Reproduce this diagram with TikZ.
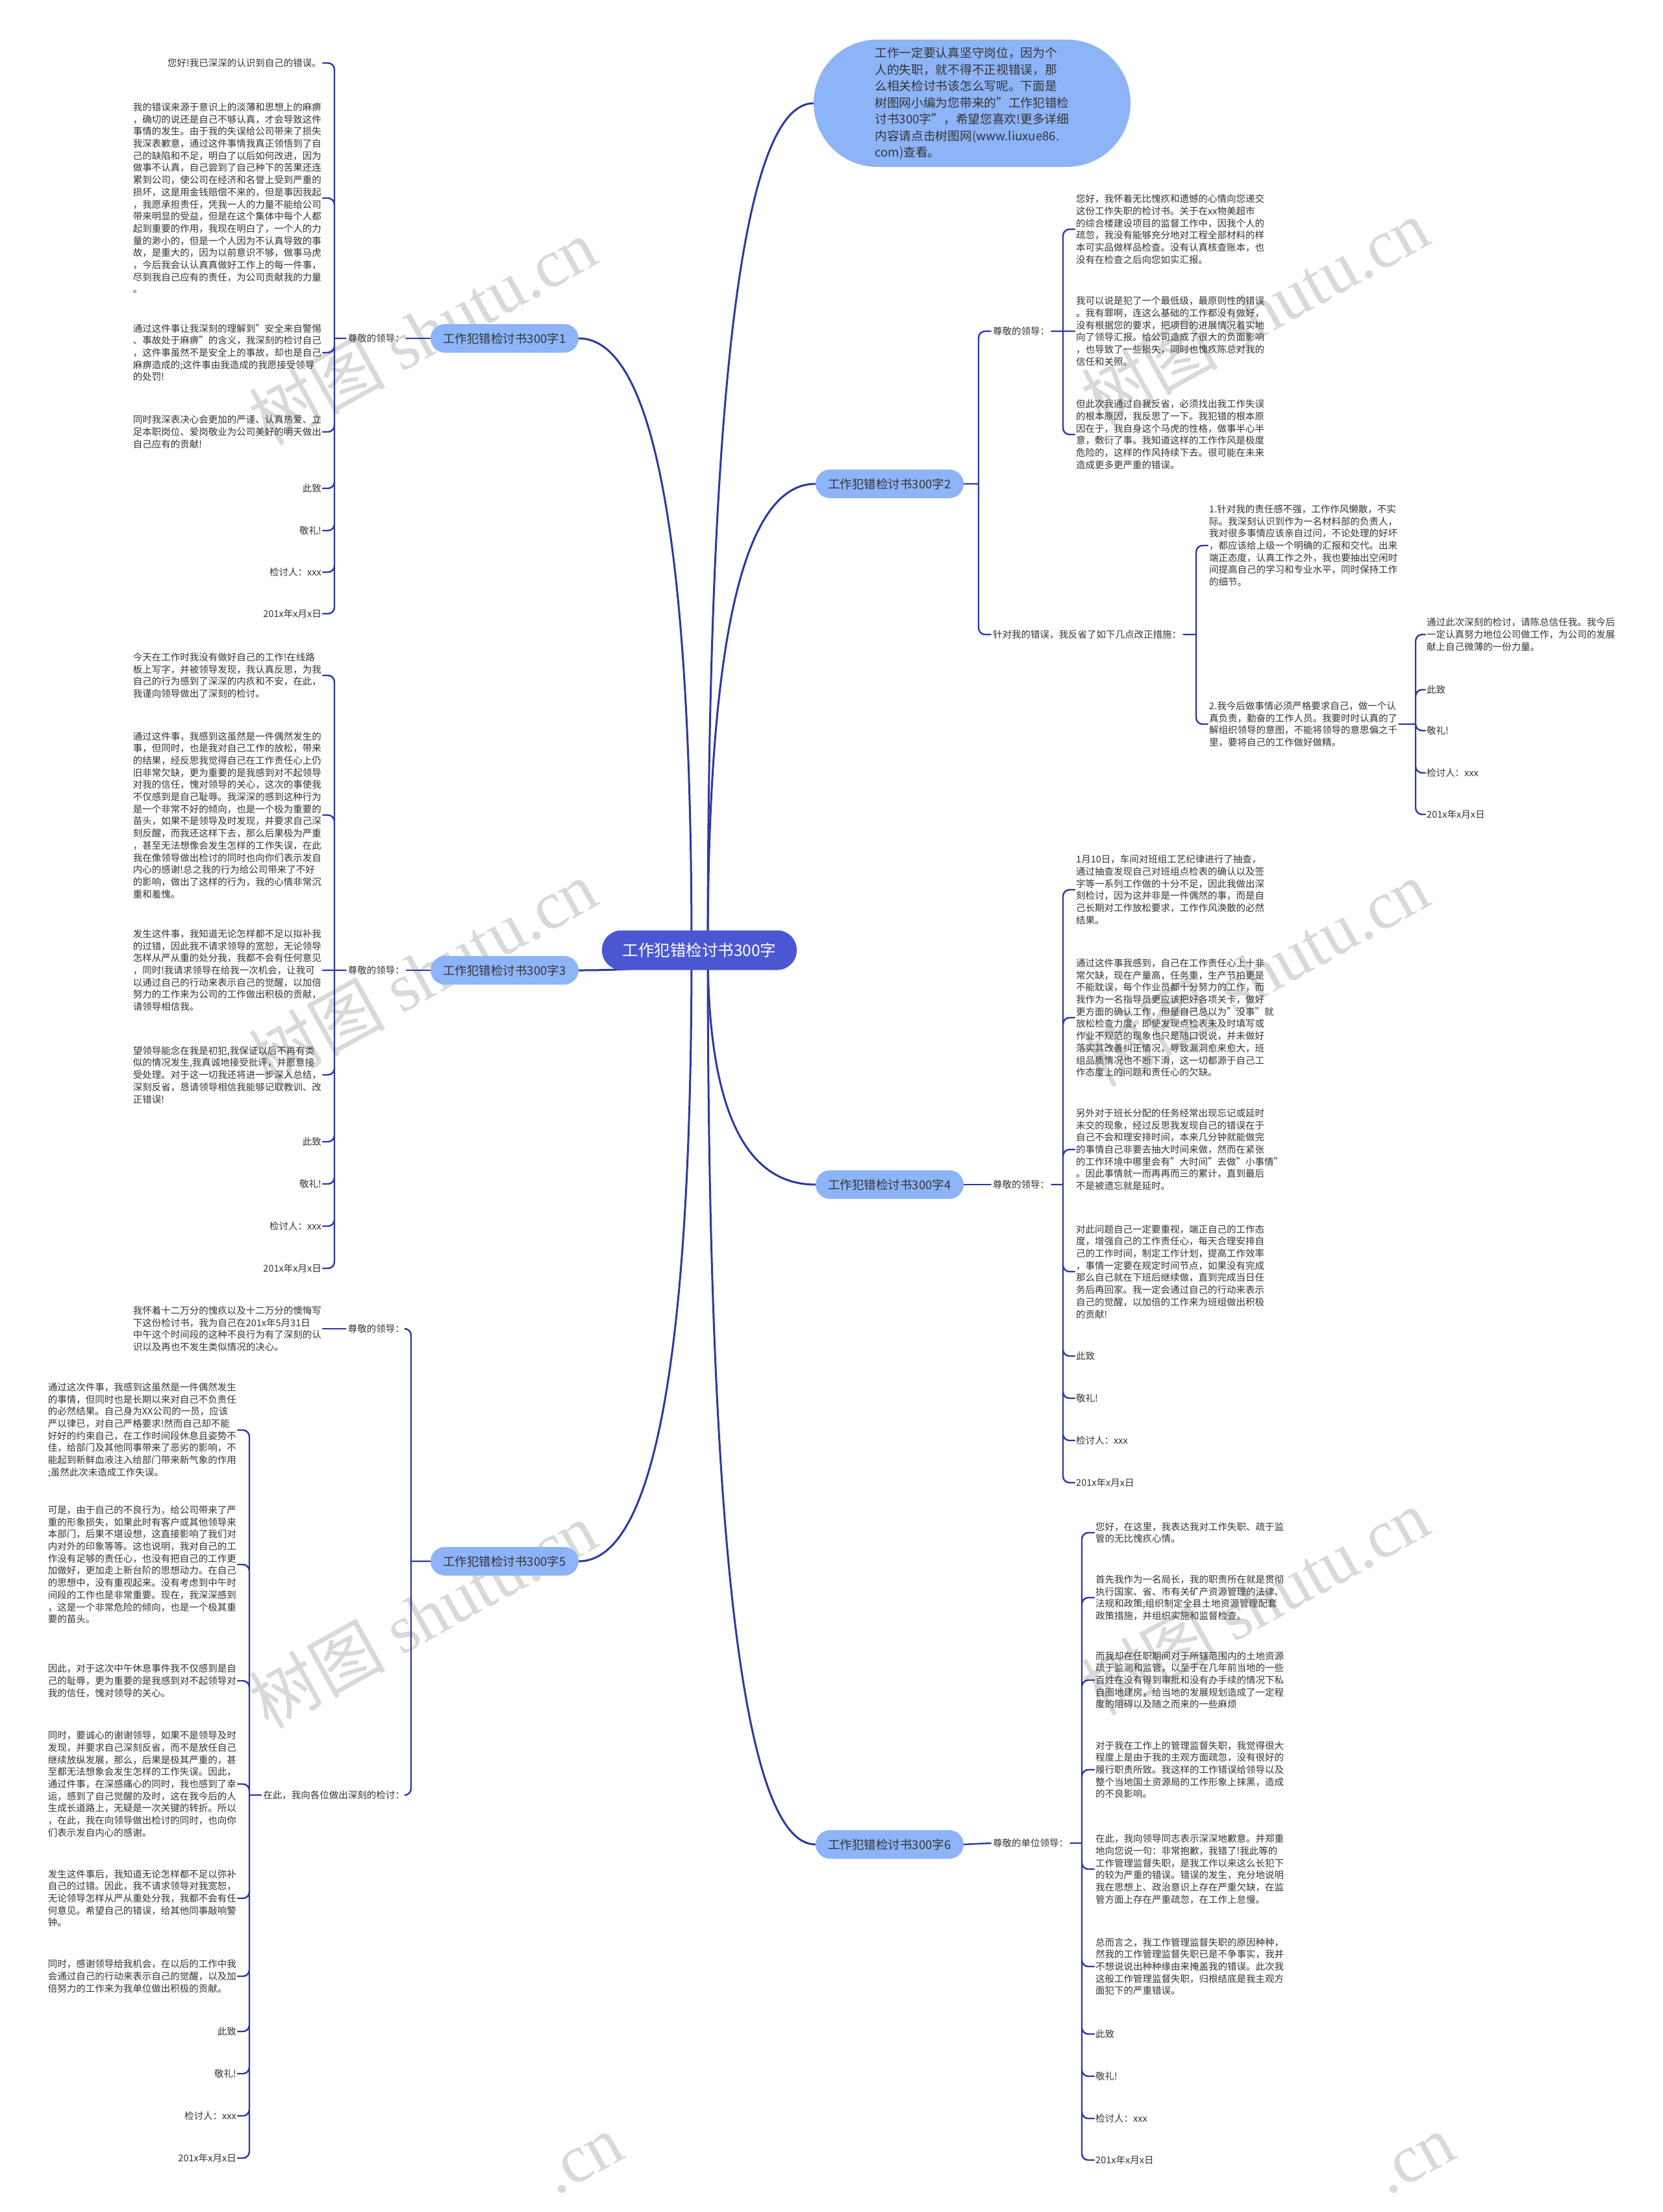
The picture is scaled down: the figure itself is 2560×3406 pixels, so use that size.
\documentclass[tikz,border=0pt]{standalone}
\usepackage{fontspec}
\setmainfont{Noto Sans CJK SC}
\newfontfamily\marklatin{Liberation Serif}
\usetikzlibrary{calc}
\pgfdeclarelayer{background}
\pgfsetlayers{background,main}
\definecolor{rootblue}{HTML}{4B57D2}
\definecolor{topicblue}{HTML}{8DB4F7}
\definecolor{linkblue}{HTML}{2E37A3}
\definecolor{bodytext}{HTML}{333333}
\definecolor{markgray}{HTML}{D9D9D9}
\begin{document}
\begin{tikzpicture}[
		x=1pt, y=-1pt,
		body/.style={font=\fontsize{14.5}{18.7}\selectfont, text=bodytext, align=left, inner sep=2pt},
		leftnote/.style={body, anchor=east},
		rightnote/.style={body, anchor=west},
		lefttag/.style={body, anchor=east, inner sep=3pt},
		righttag/.style={body, anchor=west, inner sep=3pt},
		topicbox/.style={fill=topicblue, text=bodytext, rounded corners=22pt, minimum width=228pt, minimum height=44pt, font=\fontsize{18.5}{22}\selectfont},
		rootbox/.style={fill=rootblue, text=white, rounded corners=30pt, minimum width=300pt, minimum height=61pt, font=\fontsize{24.5}{28}\selectfont},
		introbox/.style={fill=topicblue, text=bodytext, rounded corners=98pt, minimum width=488pt, minimum height=196pt, align=left, font=\fontsize{18.7}{25.5}\selectfont},
		trunk/.style={draw=linkblue, line width=3pt},
		twig/.style={draw=linkblue, line width=2.4pt, rounded corners=10pt, line cap=round},
		wmark/.style={text=markgray, rotate=29, inner sep=0pt, font=\fontsize{105}{110}\selectfont}
		]
		\useasboundingbox (0,0) rectangle (2560,3406);
		
		\node[rootbox] (root) at (1077,1463) {工作犯错检讨书300字};
		\node[topicbox] (sec1) at (777,521) {工作犯错检讨书300字1};
		\node[topicbox] (sec3) at (777,1494) {工作犯错检讨书300字3};
		\node[topicbox] (sec5) at (777,2404) {工作犯错检讨书300字5};
		\node[topicbox] (sec2) at (1370,745) {工作犯错检讨书300字2};
		\node[topicbox] (sec4) at (1370,1824) {工作犯错检讨书300字4};
		\node[topicbox] (sec6) at (1370,2840) {工作犯错检讨书300字6};
		\node[introbox] (intro) at (1497,159) {工作一定要认真坚守岗位，因为个\\人的失职，就不得不正视错误，那\\么相关检讨书该怎么写呢。下面是\\树图网小编为您带来的"工作犯错检\\讨书300字"，希望您喜欢!更多详细\\内容请点击树图网(www.liuxue86.\\com)查看。};
		
		% 300字1
		\node[lefttag] (tag1) at (626,521) {尊敬的领导：};
		\coordinate (j1) at (515,521);
		\node[leftnote] (a1) at (497,97) {您好!我已深深的认识到自己的错误。};
		\node[leftnote] (a2) at (497,305) {我的错误来源于意识上的淡薄和思想上的麻痹\\，确切的说还是自己不够认真，才会导致这件\\事情的发生。由于我的失误给公司带来了损失\\我深表歉意，通过这件事情我真正领悟到了自\\己的缺陷和不足，明白了以后如何改进，因为\\做事不认真，自己尝到了自己种下的苦果还连\\累到公司，使公司在经济和名誉上受到严重的\\损坏，这是用金钱赔偿不来的，但是事因我起\\，我愿承担责任，凭我一人的力量不能给公司\\带来明显的受益，但是在这个集体中每个人都\\起到重要的作用，我现在明白了，一个人的力\\量的渺小的，但是一个人因为不认真导致的事\\故，是重大的，因为以前意识不够，做事马虎\\，今后我会认认真真做好工作上的每一件事，\\尽到我自己应有的责任，为公司贡献我的力量\\。};
		\node[leftnote] (a3) at (497,543) {通过这件事让我深刻的理解到"安全来自警惕\\、事故处于麻痹"的含义，我深刻的检讨自己\\，这件事虽然不是安全上的事故，却也是自己\\麻痹造成的;这件事由我造成的我愿接受领导\\的处罚!};
		\node[leftnote] (a4) at (497,665) {同时我深表决心会更加的严谨、认真热爱、立\\足本职岗位、爱岗敬业为公司美好的明天做出\\自己应有的贡献!};
		\node[leftnote] (a5) at (497,752) {此致};
		\node[leftnote] (a6) at (497,817) {敬礼!};
		\node[leftnote] (a7) at (497,881) {检讨人：xxx};
		\node[leftnote] (a8) at (497,945) {201x年x月x日};
		
		% 300字3
		\node[lefttag] (tag3) at (626,1494) {尊敬的领导：};
		\coordinate (j3) at (515,1494);
		\node[leftnote] (b1) at (497,1040) {今天在工作时我没有做好自己的工作!在线路\\板上写字，并被领导发现，我认真反思，为我\\自己的行为感到了深深的内疚和不安，在此，\\我谨向领导做出了深刻的检讨。};
		\node[leftnote] (b2) at (497,1255) {通过这件事，我感到这虽然是一件偶然发生的\\事，但同时，也是我对自己工作的放松，带来\\的结果，经反思我觉得自己在工作责任心上仍\\旧非常欠缺，更为重要的是我感到对不起领导\\对我的信任，愧对领导的关心，这次的事使我\\不仅感到是自己耻辱。我深深的感到这种行为\\是一个非常不好的倾向，也是一个极为重要的\\苗头，如果不是领导及时发现，并要求自己深\\刻反醒，而我还这样下去，那么后果极为严重\\，甚至无法想像会发生怎样的工作失误，在此\\我在像领导做出检讨的同时也向你们表示发自\\内心的感谢!总之我的行为给公司带来了不好\\的影响，做出了这样的行为，我的心情非常沉\\重和羞愧。};
		\node[leftnote] (b3) at (497,1494) {发生这件事，我知道无论怎样都不足以拟补我\\的过错，因此我不请求领导的宽恕，无论领导\\怎样从严从重的处分我，我都不会有任何意见\\，同时!我请求领导在给我一次机会，让我可\\以通过自己的行动来表示自己的觉醒，以加倍\\努力的工作来为公司的工作做出积极的贡献，\\请领导相信我。};
		\node[leftnote] (b4) at (497,1655) {望领导能念在我是初犯,我保证以后不再有类\\似的情况发生,我真诚地接受批评，并愿意接\\受处理。对于这一切我还将进一步深入总结，\\深刻反省，恳请领导相信我能够记取教训、改\\正错误!};
		\node[leftnote] (b5) at (497,1758) {此致};
		\node[leftnote] (b6) at (497,1823) {敬礼!};
		\node[leftnote] (b7) at (497,1888) {检讨人：xxx};
		\node[leftnote] (b8) at (497,1953) {201x年x月x日};
		
		% 300字5
		\coordinate (j5) at (633,2404);
		\node[lefttag] (tag5a) at (626,2046) {尊敬的领导：};
		\node[lefttag] (tag5b) at (626,2764) {在此，我向各位做出深刻的检讨：};
		\coordinate (j5b) at (384,2764);
		\node[leftnote] (e0) at (497,2046) {我怀着十二万分的愧疚以及十二万分的懊悔写\\下这份检讨书，我为自己在201x年5月31日\\中午这个时间段的这种不良行为有了深刻的认\\识以及再也不发生类似情况的决心。};
		\node[leftnote] (e1) at (366,2202) {通过这次件事，我感到这虽然是一件偶然发生\\的事情，但同时也是长期以来对自己不负责任\\的必然结果。自己身为XX公司的一员，应该\\严以律已，对自己严格要求!然而自己却不能\\好好的约束自己，在工作时间段休息且姿势不\\佳，给部门及其他同事带来了恶劣的影响，不\\能起到新鲜血液注入给部门带来新气象的作用\\;虽然此次未造成工作失误。};
		\node[leftnote] (e2) at (366,2409) {可是，由于自己的不良行为，给公司带来了严\\重的形象损失，如果此时有客户或其他领导来\\本部门，后果不堪设想，这直接影响了我们对\\内对外的印象等等。这也说明，我对自己的工\\作没有足够的责任心，也没有把自己的工作更\\加做好，更加走上新台阶的思想动力。在自己\\的思想中，没有重视起来。没有考虑到中午时\\间段的工作也是非常重要。现在，我深深感到\\，这是一个非常危险的倾向，也是一个极其重\\要的苗头。};
		\node[leftnote] (e3) at (366,2588) {因此，对于这次中午休息事件我不仅感到是自\\己的耻辱，更为重要的是我感到对不起领导对\\我的信任，愧对领导的关心。};
		\node[leftnote] (e4) at (366,2747) {同时，要诚心的谢谢领导，如果不是领导及时\\发现，并要求自己深刻反省，而不是放任自己\\继续放纵发展，那么，后果是极其严重的，甚\\至都无法想象会发生怎样的工作失误。因此，\\通过件事，在深感痛心的同时，我也感到了幸\\运，感到了自己觉醒的及时，这在我今后的人\\生成长道路上，无疑是一次关键的转折。所以\\，在此，我在向领导做出检讨的同时，也向你\\们表示发自内心的感谢。};
		\node[leftnote] (e5) at (366,2923) {发生这件事后，我知道无论怎样都不足以弥补\\自己的过错。因此，我不请求领导对我宽恕，\\无论领导怎样从严从重处分我，我都不会有任\\何意见。希望自己的错误，给其他同事敲响警\\钟。};
		\node[leftnote] (e6) at (366,3043) {同时，感谢领导给我机会，在以后的工作中我\\会通过自己的行动来表示自己的觉醒，以及加\\倍努力的工作来为我单位做出积极的贡献。};
		\node[leftnote] (e7) at (366,3128) {此致};
		\node[leftnote] (e8) at (366,3193) {敬礼!};
		\node[leftnote] (e9) at (366,3258) {检讨人：xxx};
		\node[leftnote] (e10) at (366,3323) {201x年x月x日};
		
		% 300字2
		\coordinate (j2) at (1507,745);
		\node[righttag] (tag2a) at (1526,510) {尊敬的领导：};
		\node[righttag] (tag2b) at (1526,977) {针对我的错误，我反省了如下几点改正措施：};
		\coordinate (j2a) at (1637,510);
		\node[rightnote] (f1) at (1655,353) {您好，我怀着无比愧疚和遗憾的心情向您递交\\这份工作失职的检讨书。关于在xx物美超市\\的综合楼建设项目的监督工作中，因我个人的\\疏忽，我没有能够充分地对工程全部材料的样\\本可实品做样品检查。没有认真核查账本，也\\没有在检查之后向您如实汇报。};
		\node[rightnote] (f2) at (1655,510) {我可以说是犯了一个最低级，最原则性的错误\\。我有罪啊，连这么基础的工作都没有做好，\\没有根据您的要求，把项目的进展情况着实地\\向了领导汇报。给公司造成了很大的负面影响\\，也导致了一些损失，同时也愧疚陈总对我的\\信任和关照。};
		\node[rightnote] (f3) at (1655,669) {但此次我通过自我反省，必须找出我工作失误\\的根本原因，我反思了一下。我犯错的根本原\\因在于，我自身这个马虎的性格，做事半心半\\意，敷衍了事。我知道这样的工作作风是极度\\危险的，这样的作风持续下去。很可能在未来\\造成更多更严重的错误。};
		\coordinate (j2b) at (1842,977);
		\node[rightnote] (g1) at (1860,840) {1.针对我的责任感不强，工作作风懒散，不实\\际。我深刻认识到作为一名材料部的负责人，\\我对很多事情应该亲自过问，不论处理的好坏\\，都应该给上级一个明确的汇报和交代。出来\\端正态度，认真工作之外，我也要抽出空闲时\\间提高自己的学习和专业水平，同时保持工作\\的细节。};
		\node[rightnote] (g2) at (1860,1115) {2.我今后做事情必须严格要求自己，做一个认\\真负责，勤奋的工作人员。我要时时认真的了\\解组织领导的意图，不能将领导的意思偏之千\\里，要将自己的工作做好做精。};
		\coordinate (j2c) at (2180,1115);
		\node[rightnote] (h1) at (2195,977) {通过此次深刻的检讨，请陈总信任我。我今后\\一定认真努力地位公司做工作，为公司的发展\\献上自己微薄的一份力量。};
		\node[rightnote] (h2) at (2195,1062) {此致};
		\node[rightnote] (h3) at (2195,1125) {敬礼!};
		\node[rightnote] (h4) at (2195,1190) {检讨人：xxx};
		\node[rightnote] (h5) at (2195,1254) {201x年x月x日};
		
		% 300字4
		\node[righttag] (tag4) at (1526,1824) {尊敬的领导：};
		\coordinate (j4) at (1637,1824);
		\node[rightnote] (k1) at (1655,1370) {1月10日，车间对班组工艺纪律进行了抽查，\\通过抽查发现自己对班组点检表的确认以及签\\字等一系列工作做的十分不足，因此我做出深\\刻检讨，因为这并非是一件偶然的事，而是自\\己长期对工作放松要求，工作作风涣散的必然\\结果。};
		\node[rightnote] (k2) at (1655,1567) {通过这件事我感到，自己在工作责任心上十非\\常欠缺，现在产量高，任务重，生产节拍更是\\不能耽误，每个作业员都十分努力的工作，而\\我作为一名指导员更应该把好各项关卡，做好\\更方面的确认工作，但是自己总以为"没事"就\\放松检查力度，即使发现点检表未及时填写或\\作业不规范的现象也只是随口说说，并未做好\\落实其改善纠正情况，导致漏洞愈来愈大，班\\组品质情况也不断下滑，这一切都源于自己工\\作态度上的问题和责任心的欠缺。};
		\node[rightnote] (k3) at (1655,1770) {另外对于班长分配的任务经常出现忘记或延时\\未交的现象，经过反思我发现自己的错误在于\\自己不会和理安排时间，本来几分钟就能做完\\的事情自己非要去抽大时间来做，然而在紧张\\的工作环境中哪里会有"大时间"去做"小事情"\\。因此事情就一而再再而三的累计，直到最后\\不是被遗忘就是延时。};
		\node[rightnote] (k4) at (1655,1958) {对此问题自己一定要重视，端正自己的工作态\\度，增强自己的工作责任心，每天合理安排自\\己的工作时间，制定工作计划，提高工作效率\\，事情一定要在规定时间节点，如果没有完成\\那么自己就在下班后继续做，直到完成当日任\\务后再回家。我一定会通过自己的行动来表示\\自己的觉醒，以加倍的工作来为班组做出积极\\的贡献!};
		\node[rightnote] (k5) at (1655,2088) {此致};
		\node[rightnote] (k6) at (1655,2153) {敬礼!};
		\node[rightnote] (k7) at (1655,2218) {检讨人：xxx};
		\node[rightnote] (k8) at (1655,2283) {201x年x月x日};
		
		% 300字6
		\node[righttag] (tag6) at (1526,2838) {尊敬的单位领导：};
		\coordinate (j6) at (1666,2838);
		\node[rightnote] (m1) at (1685,2360) {您好，在这里，我表达我对工作失职、疏于监\\管的无比愧疚心情。};
		\node[rightnote] (m2) at (1685,2460) {首先我作为一名局长，我的职责所在就是贯彻\\执行国家、省、市有关矿产资源管理的法律、\\法规和政策;组织制定全县土地资源管理配套\\政策措施，并组织实施和监督检查。};
		\node[rightnote] (m3) at (1685,2587) {而我却在任职期间对于所辖范围内的土地资源\\疏于监测和监管，以至于在几年前当地的一些\\百姓在没有得到审批和没有办手续的情况下私\\自圈地建房，给当地的发展规划造成了一定程\\度的阻碍以及随之而来的一些麻烦};
		\node[rightnote] (m4) at (1685,2725) {对于我在工作上的管理监督失职，我觉得很大\\程度上是由于我的主观方面疏忽，没有很好的\\履行职责所致。我这样的工作错误给领导以及\\整个当地国土资源局的工作形象上抹黑，造成\\的不良影响。};
		\node[rightnote] (m5) at (1685,2878) {在此，我向领导同志表示深深地歉意。并郑重\\地向您说一句：非常抱歉，我错了!我此等的\\工作管理监督失职，是我工作以来这么长犯下\\的较为严重的错误。错误的发生，充分地说明\\我在思想上、政治意识上存在严重欠缺，在监\\管方面上存在严重疏忽，在工作上怠慢。};
		\node[rightnote] (m6) at (1685,3028) {总而言之，我工作管理监督失职的原因种种，\\然我的工作管理监督失职已是不争事实，我并\\不想说说出种种缘由来掩盖我的错误。此次我\\这般工作管理监督失职，归根结底是我主观方\\面犯下的严重错误。};
		\node[rightnote] (m7) at (1685,3132) {此致};
		\node[rightnote] (m8) at (1685,3197) {敬礼!};
		\node[rightnote] (m9) at (1685,3262) {检讨人：xxx};
		\node[rightnote] (m10) at (1685,3326) {201x年x月x日};
		
		\begin{pgfonlayer}{background}
		\fill[white] (0,0) rectangle (2560,3406);
		% watermarks
		\node[wmark] at (651,510) {树图 {\marklatin shutu.cn}};
		\node[wmark] at (1933,480) {树图 {\marklatin shutu.cn}};
		\node[wmark] at (651,1498) {树图 {\marklatin shutu.cn}};
		\node[wmark] at (1933,1498) {树图 {\marklatin shutu.cn}};
		\node[wmark] at (651,2486) {树图 {\marklatin shutu.cn}};
		\node[wmark] at (1933,2466) {树图 {\marklatin shutu.cn}};
		\node[wmark] at (900,3330) {\marklatin .cn};
		\node[wmark] at (2181,3330) {\marklatin .cn};
		
		% main curves
		\coordinate (lc) at (1065,1463);
		\coordinate (rc) at (1090,1463);
		\draw[trunk] (lc) .. controls ($(lc)!2/3!(lc|-sec1.east)$) and ($(sec1.east)!2/3!(lc|-sec1.east)$) .. (sec1.east);
		\draw[trunk] (lc) .. controls ($(lc)!2/3!(lc|-sec3.east)$) and ($(sec3.east)!2/3!(lc|-sec3.east)$) .. (sec3.east);
		\draw[trunk] (lc) .. controls ($(lc)!2/3!(lc|-sec5.east)$) and ($(sec5.east)!2/3!(lc|-sec5.east)$) .. (sec5.east);
		\draw[trunk] (rc) .. controls ($(rc)!2/3!(rc|-intro.west)$) and ($(intro.west)!2/3!(rc|-intro.west)$) .. (intro.west);
		\draw[trunk] (rc) .. controls ($(rc)!2/3!(rc|-sec2.west)$) and ($(sec2.west)!2/3!(rc|-sec2.west)$) .. (sec2.west);
		\draw[trunk] (rc) .. controls ($(rc)!2/3!(rc|-sec4.west)$) and ($(sec4.west)!2/3!(rc|-sec4.west)$) .. (sec4.west);
		\draw[trunk] (rc) .. controls ($(rc)!2/3!(rc|-sec6.west)$) and ($(sec6.west)!2/3!(rc|-sec6.west)$) .. (sec6.west);
		
		% left side
		\draw[twig] (sec1.west) -- (tag1.east);
		\draw[twig] (tag1.west) -- (j1) (j1) |- (a1.east) (j1) |- (a2.east) (j1) |- (a3.east) (j1) |- (a4.east) (j1) |- (a5.east) (j1) |- (a6.east) (j1) |- (a7.east) (j1) |- (a8.east);
		\draw[twig] (sec3.west) -- (tag3.east);
		\draw[twig] (tag3.west) -- (b3.east) (j3) |- (b1.east) (j3) |- (b2.east) (j3) |- (b4.east) (j3) |- (b5.east) (j3) |- (b6.east) (j3) |- (b7.east) (j3) |- (b8.east);
		\draw[twig] (sec5.west) -- (j5) (j5) |- (tag5a.east) (j5) |- (tag5b.east);
		\draw[twig] (tag5a.west) -- (e0.east);
		\draw[twig] (tag5b.west) -- (j5b) (j5b) |- (e1.east) (j5b) |- (e2.east) (j5b) |- (e3.east) (j5b) |- (e4.east) (j5b) |- (e5.east) (j5b) |- (e6.east) (j5b) |- (e7.east) (j5b) |- (e8.east) (j5b) |- (e9.east) (j5b) |- (e10.east);
		
		% right side
		\draw[twig] (sec2.east) -- (j2) (j2) |- (tag2a.west) (j2) |- (tag2b.west);
		\draw[twig] (tag2a.east) -- (f2.west) (j2a) |- (f1.west) (j2a) |- (f3.west);
		\draw[twig] (tag2b.east) -- (j2b) (j2b) |- (g1.west) (j2b) |- (g2.west);
		\draw[twig] (g2.east) -- (j2c) (j2c) |- (h1.west) (j2c) |- (h2.west) (j2c) |- (h3.west) (j2c) |- (h4.west) (j2c) |- (h5.west);
		\draw[twig] (sec4.east) -- (tag4.west);
		\draw[twig] (tag4.east) -- (j4) (j4) |- (k1.west) (j4) |- (k2.west) (j4) |- (k3.west) (j4) |- (k4.west) (j4) |- (k5.west) (j4) |- (k6.west) (j4) |- (k7.west) (j4) |- (k8.west);
		\draw[twig] (sec6.east) -- (tag6.west);
		\draw[twig] (tag6.east) -- (j6) (j6) |- (m1.west) (j6) |- (m2.west) (j6) |- (m3.west) (j6) |- (m4.west) (j6) |- (m5.west) (j6) |- (m6.west) (j6) |- (m7.west) (j6) |- (m8.west) (j6) |- (m9.west) (j6) |- (m10.west);
		\end{pgfonlayer}
		
	\end{tikzpicture}
\end{document}
